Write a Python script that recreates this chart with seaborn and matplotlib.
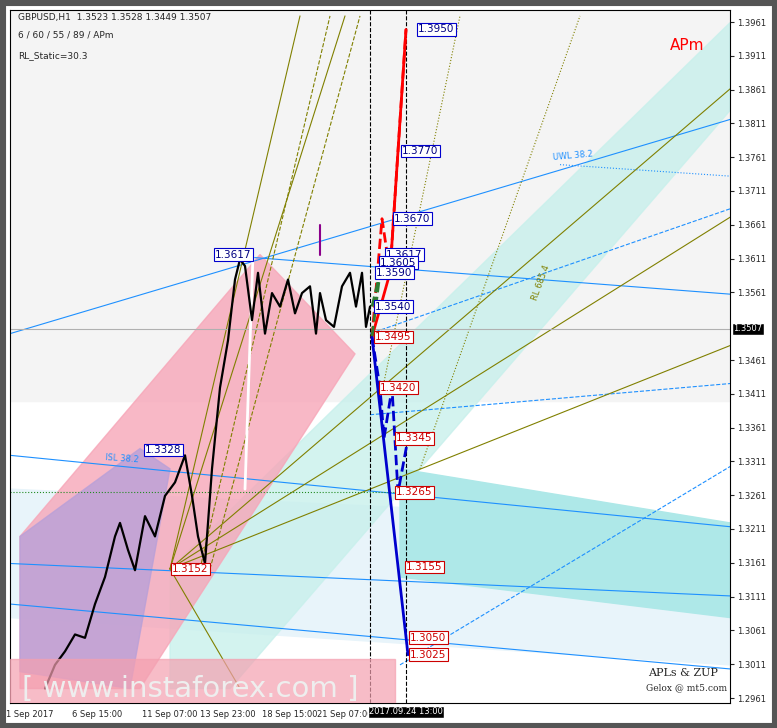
import numpy as np
import matplotlib.pyplot as plt
import seaborn as sns
from matplotlib.patches import Polygon, Rectangle

sns.set_style("white")

# price path (bar index, price)
bar_x = [45, 55, 65, 75, 85, 95, 105, 115, 120, 128, 135, 145, 155, 165, 175, 185, 192, 198, 205, 212,
         220, 228, 235, 240, 245, 252, 258, 265, 272, 280, 288, 295, 302, 310, 316, 320, 326, 334,
         342, 350, 356, 362, 366, 370]
bar_p = [1.2975, 1.3010, 1.3030, 1.3055, 1.3050, 1.3100, 1.3140, 1.3200, 1.3220, 1.3180, 1.3150, 1.3230,
         1.3200, 1.3260, 1.3280, 1.3320, 1.3260, 1.3200, 1.3160, 1.3300, 1.3420, 1.3490, 1.3580, 1.3610,
         1.3600, 1.3520, 1.3590, 1.3500, 1.3560, 1.3540, 1.3580, 1.3530, 1.3560, 1.3570, 1.3500,
         1.3560, 1.3520, 1.3510, 1.3570, 1.3590, 1.3540, 1.3590, 1.3510, 1.3540]

# projection levels
up_x = [372, 382, 390, 398, 406]
up_p = [1.3495, 1.3670, 1.3590, 1.3770, 1.3950]
dn_x = [372, 380, 384, 392, 398, 408]
dn_p = [1.3495, 1.3420, 1.3345, 1.3265, 1.3155, 1.3025]
blue_labels = [(1.3950, 418), (1.3770, 402), (1.3670, 394), (1.3617, 386), (1.3605, 380), (1.3590, 376), (1.3540, 375)]
red_labels = [(1.3495, 375), (1.3420, 380), (1.3345, 396), (1.3265, 396), (1.3155, 406), (1.3050, 410), (1.3025, 410)]
left_labels = [(1.3617, 215), (1.3328, 145), (1.3152, 172)]

yticks = [1.2961, 1.3011, 1.3061, 1.3111, 1.3161, 1.3211, 1.3261, 1.3311, 1.3361, 1.3411, 1.3461,
          1.3561, 1.3611, 1.3661, 1.3711, 1.3761, 1.3811, 1.3861, 1.3911, 1.3961]
xtick_pos = [30, 97, 170, 228, 290, 345]
xtick_lab = ["1 Sep 2017", "6 Sep 15:00", "11 Sep 07:00", "13 Sep 23:00", "18 Sep 15:00", "21 Sep 07:00"]

# shaded channels (bar index, price)
pink_band = [(20, 1.2975), (20, 1.3200), (260, 1.3617), (355, 1.3470), (140, 1.2975)]
purple_band = [(20, 1.3000), (20, 1.3200), (140, 1.3330), (170, 1.3300), (130, 1.2975)]
cyan_band = [(170, 1.3152), (730, 1.3960), (730, 1.3830), (230, 1.2975), (170, 1.2975)]
light_band = [(10, 1.3270), (730, 1.3220), (730, 1.3010), (10, 1.3080)]
cyan_dark = [(400, 1.3300), (730, 1.3220), (730, 1.3080), (400, 1.3140)]
grey_area = [(10, 1.3980), (730, 1.3980), (730, 1.3400), (10, 1.3400)]


def px(y):
    return 1.3961 - (y - 22) / 6760.0


fig = plt.figure(figsize=(7.77, 7.28), dpi=100)
fig.patch.set_facecolor("white")
fig.add_artist(Rectangle((0, 0), 1, 1, transform=fig.transFigure, fc="none", ec="#555555", lw=8))
ax = fig.add_axes([10 / 777, 25 / 728, 720 / 777, 693 / 728])
ax.set_xlim(10, 730)
ax.set_ylim(px(703), px(10))
ax.set_facecolor("white")

ax.add_patch(Polygon(grey_area, color="#f4f4f4", zorder=0))
ax.add_patch(Polygon(light_band, color="#e8f4fa", zorder=0))
ax.add_patch(Polygon(cyan_band, color="#c8f0ec", alpha=0.8, zorder=0))
ax.add_patch(Polygon(cyan_dark, color="#aee8e8", zorder=0))
ax.add_patch(Polygon(pink_band, color="#f7a6b8", alpha=0.8, zorder=1))
ax.add_patch(Polygon(purple_band, color="#b9a0d8", alpha=0.8, zorder=1))

# trend lines
for x0, p0, x1, p1, c, ls in [
    (10, 1.3500, 760, 1.3830, "#1e90ff", "-"), (215, 1.3617, 760, 1.3555, "#1e90ff", "-"),
    (10, 1.3320, 760, 1.3210, "#1e90ff", "-"), (10, 1.3160, 760, 1.3110, "#1e90ff", "-"),
    (10, 1.3100, 760, 1.3000, "#1e90ff", "-"), (370, 1.3500, 760, 1.3700, "#1e90ff", "--"),
    (370, 1.3380, 760, 1.3430, "#1e90ff", "--"), (400, 1.3010, 760, 1.3330, "#1e90ff", "--"),
    (560, 1.3750, 760, 1.3730, "#1e90ff", ":"),
    (170, 1.3152, 760, 1.3900, "#808000", "-"), (170, 1.3152, 760, 1.3700, "#808000", "-"),
    (170, 1.3152, 760, 1.3500, "#808000", "-"), (170, 1.3152, 345, 1.3970, "#808000", "-"),
    (170, 1.3152, 300, 1.3970, "#808000", "-"), (170, 1.3152, 240, 1.2975, "#808000", "-"),
    (10, 1.3265, 400, 1.3265, "#228b22", ":"), (200, 1.3152, 330, 1.3970, "#808000", "--"),
    (210, 1.3152, 360, 1.3970, "#808000", "--"), (380, 1.3400, 460, 1.3970, "#808000", ":"),
    (420, 1.3300, 580, 1.3970, "#808000", ":")]:
    ax.plot([x0, x1], [p0, p1], color=c, lw=0.8, ls=ls, zorder=2)

ax.axhline(1.3507, color="#b0b0b0", lw=0.8, zorder=2)
ax.axvline(370, color="black", ls="--", lw=0.8)
ax.axvline(406, color="black", ls="--", lw=0.8)

sns.lineplot(x=bar_x, y=bar_p, color="black", lw=1.6, ax=ax, zorder=5, sort=False)
ax.plot([253, 245], [1.3617, 1.3270], color="white", lw=2, zorder=4)
ax.plot([320, 320], [1.3617, 1.3660], color="#8b008b", lw=1.5, zorder=5)

ax.plot(up_x[::2], up_p[::2], color="red", lw=2, zorder=6)
ax.plot(up_x, up_p, color="red", lw=2, ls="--", zorder=6)
ax.plot([dn_x[0], dn_x[-1]], [dn_p[0], dn_p[-1]], color="#0000cd", lw=2, zorder=6)
ax.plot(dn_x, [1.3495, 1.3420, 1.3345, 1.3420, 1.3265, 1.3345], color="#0000cd", lw=2, ls="--", zorder=6)
ax.plot([372, 380, 372], [1.3540, 1.3590, 1.3495], color="#2e7d32", lw=2, ls="--", zorder=6)

for p, x in blue_labels:
    ax.text(x, p, f"{p:.4f}", fontsize=7.5, color="#000080", va="center", zorder=7,
            bbox=dict(fc="white", ec="#0000cd", lw=0.8, pad=1))
for p, x in red_labels:
    ax.text(x, p, f"{p:.4f}", fontsize=7.5, color="#cc0000", va="center", zorder=7,
            bbox=dict(fc="white", ec="#cc0000", lw=0.8, pad=1))
for p, x in left_labels:
    ax.text(x, p, f"{p:.4f}", fontsize=7.5, color="#000080" if p > 1.32 else "#cc0000", va="center",
            zorder=7, bbox=dict(fc="white", ec="#0000cd" if p > 1.32 else "#cc0000", lw=0.8, pad=1))

ax.yaxis.tick_right()
ax.set_yticks(yticks)
ax.set_yticklabels([f"{t:.4f}" for t in yticks], fontsize=6)
ax.set_xticks(xtick_pos)
ax.set_xticklabels(xtick_lab, fontsize=6)
ax.tick_params(length=3, pad=2)
ax.text(733, 1.3507, "1.3507", fontsize=6, color="white", va="center", ha="left",
        bbox=dict(fc="black", pad=1), clip_on=False)
ax.text(406, px(712), "2017.09.24 13:00", fontsize=6, color="white", va="center", ha="center",
        bbox=dict(fc="black", pad=1), clip_on=False, zorder=10)

ax.text(18, px(20), "GBPUSD,H1  1.3523 1.3528 1.3449 1.3507", fontsize=6.5)
ax.text(18, px(37), "6 / 60 / 55 / 89 / APm", fontsize=6.5)
ax.text(18, px(58), "RL_Static=30.3", fontsize=6.5)
ax.text(670, px(50), "APm", fontsize=11, color="red")
ax.text(648, px(676), "APLs & ZUP", fontsize=8, family="serif")
ax.text(646, px(690), "Gelox @ mt5.com", fontsize=6.5, family="serif")
ax.text(552, px(160), "UWL 38.2", fontsize=6, color="#1e90ff", rotation=5)
ax.text(105, px(462), "ISL 38.2", fontsize=6, color="#1e90ff", rotation=-4)
ax.text(530, px(300), "RL 685.4", fontsize=6, color="#808000", rotation=70)

ax.add_patch(Rectangle((10, px(703)), 385, 0.0065, color="#f4a0b0", alpha=0.7, zorder=8))
ax.text(22, px(703) + 0.0009, "[ www.instaforex.com ]", fontsize=21, color="#eeeeee", zorder=9)

for s in ax.spines.values():
    s.set_color("black")

fig.savefig("out.png", dpi=100)
